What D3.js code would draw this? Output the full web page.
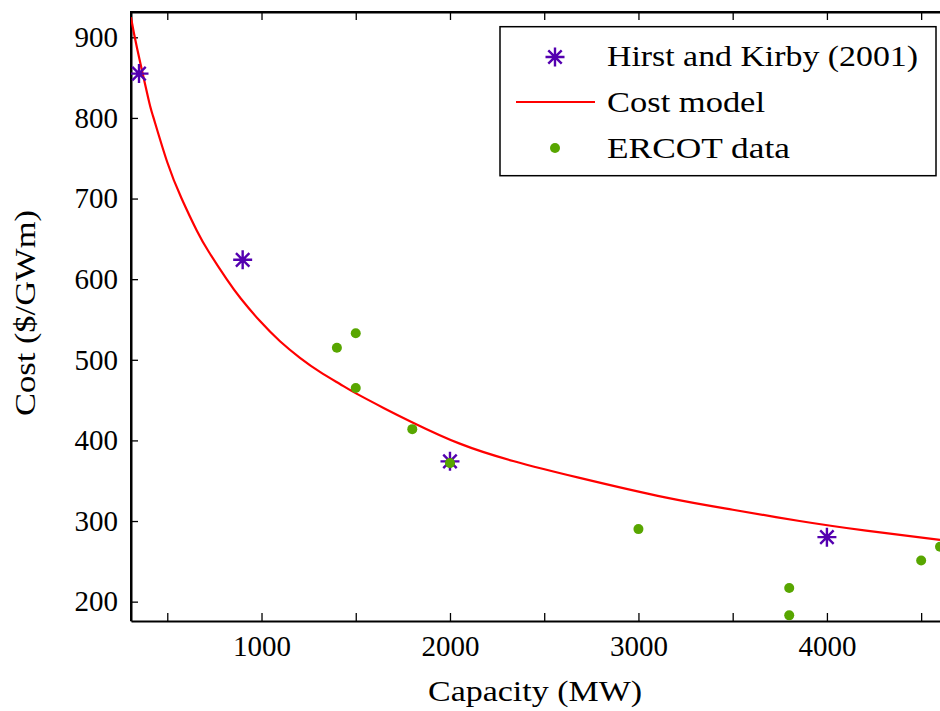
<!DOCTYPE html>
<html>
<head>
<meta charset="utf-8">
<script src="https://cdn.jsdelivr.net/npm/d3@7"></script>
<style>
  body { margin: 0; background: #fff; }
  svg text { font-family: "Liberation Serif", "DejaVu Serif", serif; fill: #000; }
</style>
</head>
<body>
<div id="chart"></div>
<script>
// Hirst and Kirby (2001) points
const hirstCapacity = [350, 900, 2000, 4000];
const hirstCost = [855, 624, 374, 280];

// ERCOT data points
const ercotCapacity = [1400, 1500, 1500, 1800, 2000, 3000, 3800, 3800, 4500, 4600];
const ercotCost = [515, 533, 465, 414, 372, 290, 217, 183, 251, 268];

// cost model curve
const modelCapacity = [307, 340, 400, 426, 500, 576, 657, 720, 815, 890, 992, 1098, 1204, 1310, 1416, 1504, 1650, 1804, 2052, 2335, 2688, 3148, 3501, 3855, 4208, 4600];
const modelCost = [925, 886, 823.5, 801, 745, 700, 660, 634, 600, 576, 548, 523, 502.5, 485, 470, 458, 440, 422, 396, 374.5, 353.5, 329, 314, 300, 288, 276.5];

const xTicks = [500, 1000, 1500, 2000, 2500, 3000, 3500, 4000, 4500];
const xTickLabels = ["", "1000", "", "2000", "", "3000", "", "4000", ""];
const yTicks = [200, 300, 400, 500, 600, 700, 800, 900];

const W = 940, H = 711;
const margin = { top: 12, right: 0, bottom: 90, left: 131 };

const svg = d3.select("#chart").append("svg")
    .attr("width", W)
    .attr("height", H);

const x = d3.scaleLinear().domain([307.5, 4600]).range([margin.left, 940]);
const y = d3.scaleLinear().domain([176, 931.4]).range([621, margin.top]);

// clip for the marks
svg.append("defs").append("clipPath").attr("id", "plot-clip")
    .append("rect")
    .attr("x", margin.left).attr("y", margin.top)
    .attr("width", 940 - margin.left + 10).attr("height", 621 - margin.top);

// axes
const xAxis = svg.append("g")
    .attr("transform", "translate(0,621)")
    .call(d3.axisBottom(x).tickValues(xTicks).tickSizeInner(-8).tickSizeOuter(0)
        .tickFormat((d, i) => xTickLabels[i]).tickPadding(14));

const xAxisTop = svg.append("g")
    .attr("transform", `translate(0,${margin.top})`)
    .call(d3.axisTop(x).tickValues(xTicks).tickSizeInner(-8).tickSizeOuter(0).tickFormat(""));

const yAxis = svg.append("g")
    .attr("transform", `translate(${margin.left},0)`)
    .call(d3.axisLeft(y).tickValues(yTicks).tickSizeInner(-7).tickSizeOuter(0).tickPadding(13));

[xAxis, xAxisTop, yAxis].forEach(g => {
    g.select(".domain").attr("stroke", "#000").attr("stroke-width", 2);
    g.selectAll(".tick line").attr("stroke", "#000").attr("stroke-width", 1.3);
    g.selectAll(".tick text").style("font-size", "29px").attr("fill", "#000");
});

// top-left corner joint
svg.append("path")
    .attr("d", `M${margin.left},621V${margin.top}H${W + 5}`)
    .attr("fill", "none").attr("stroke", "#000").attr("stroke-width", 2);

// axis titles
svg.append("text")
    .attr("x", 535).attr("y", 701)
    .attr("text-anchor", "middle")
    .attr("textLength", 214)
    .attr("lengthAdjust", "spacingAndGlyphs")
    .style("font-size", "29px")
    .text("Capacity (MW)");

svg.append("text")
    .attr("transform", "translate(35,313) rotate(-90)")
    .attr("text-anchor", "middle")
    .attr("textLength", 206)
    .attr("lengthAdjust", "spacingAndGlyphs")
    .style("font-size", "29px")
    .text("Cost ($/GWm)");

const plot = svg.append("g").attr("clip-path", "url(#plot-clip)");

// cost model line
const line = d3.line()
    .x(i => x(modelCapacity[i]))
    .y(i => y(modelCost[i]))
    .curve(d3.curveNatural);

plot.append("path")
    .datum(d3.range(modelCapacity.length))
    .attr("d", line)
    .attr("fill", "none")
    .attr("stroke", "#ff0000")
    .attr("stroke-width", 2.2);

// asterisk marker path
function asterisk(r) {
    const d = r * Math.SQRT1_2;
    return `M${-r},0H${r}M0,${-r}V${r}M${-d},${-d}L${d},${d}M${-d},${d}L${d},${-d}`;
}

const starColor = "#5400b0";
const dotColor = "#58a600";

plot.selectAll(".ercot")
    .data(d3.range(ercotCapacity.length))
    .enter().append("circle")
    .attr("class", "ercot")
    .attr("cx", i => x(ercotCapacity[i]))
    .attr("cy", i => y(ercotCost[i]))
    .attr("r", 5)
    .attr("fill", dotColor);

plot.selectAll(".hirst")
    .data(d3.range(hirstCapacity.length))
    .enter().append("path")
    .attr("class", "hirst")
    .attr("transform", i => `translate(${x(hirstCapacity[i])},${y(hirstCost[i])})`)
    .attr("d", asterisk(9.5))
    .attr("fill", "none")
    .attr("stroke", starColor)
    .attr("stroke-width", 2.4);

// the ERCOT dot at 2000 MW sits on top of the star in the picture
plot.append("circle")
    .attr("cx", x(ercotCapacity[4]))
    .attr("cy", y(ercotCost[4]))
    .attr("r", 5)
    .attr("fill", dotColor);

// legend
const legend = svg.append("g");
legend.append("rect")
    .attr("x", 500).attr("y", 26.7)
    .attr("width", 436).attr("height", 149)
    .attr("fill", "#fff")
    .attr("stroke", "#000")
    .attr("stroke-width", 1.5);

legend.append("path")
    .attr("transform", "translate(555,57)")
    .attr("d", asterisk(9.5))
    .attr("fill", "none").attr("stroke", starColor).attr("stroke-width", 2.4);

legend.append("line")
    .attr("x1", 516).attr("x2", 595)
    .attr("y1", 102).attr("y2", 102)
    .attr("stroke", "#ff0000").attr("stroke-width", 2.2);

legend.append("circle")
    .attr("cx", 555).attr("cy", 148)
    .attr("r", 5).attr("fill", dotColor);

const legendLabels = ["Hirst and Kirby (2001)", "Cost model", "ERCOT data"];
const legendWidths = [311, 158, 183];
legend.selectAll(".leg-label")
    .data(legendLabels)
    .enter().append("text")
    .attr("class", "leg-label")
    .attr("x", 607)
    .attr("y", (d, i) => 66 + i * 46)
    .attr("textLength", (d, i) => legendWidths[i])
    .attr("lengthAdjust", "spacingAndGlyphs")
    .style("font-size", "29px")
    .text(d => d);
</script>
</body>
</html>
